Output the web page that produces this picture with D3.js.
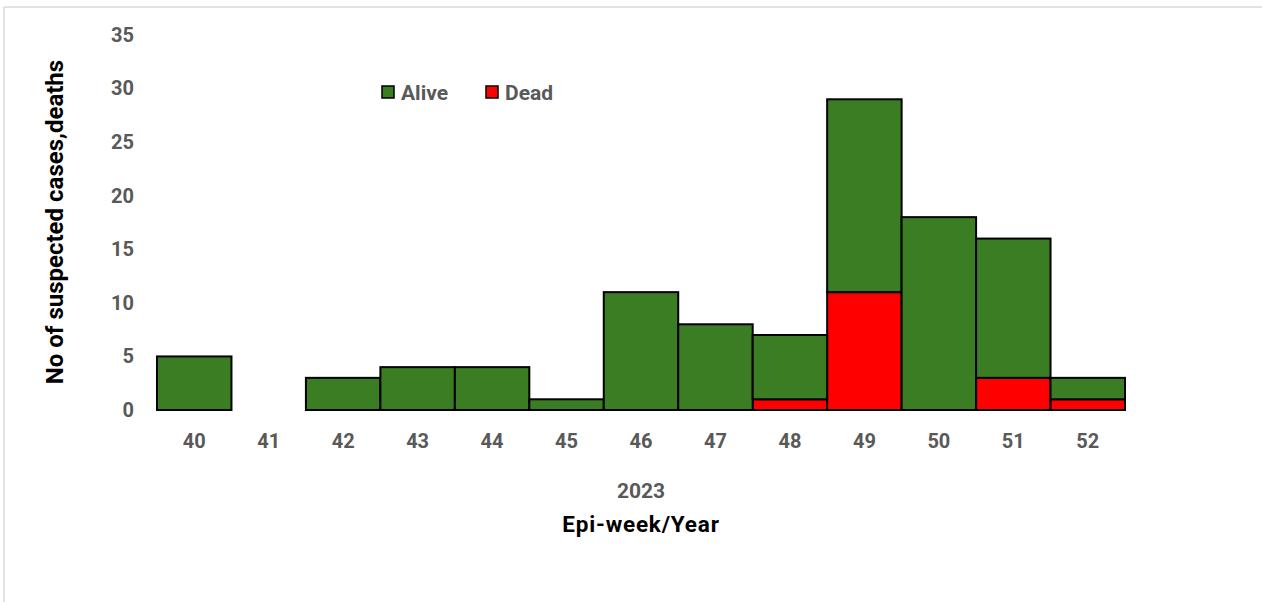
<!DOCTYPE html>
<html>
<head>
<meta charset="utf-8">
<script src="https://cdn.jsdelivr.net/npm/d3@7"></script>
<style>
  html, body { margin: 0; padding: 0; background: #fff; }
  svg { display: block; }
  text { font-family: Roboto, "Liberation Sans", Arial, sans-serif; font-weight: 700; }
</style>
</head>
<body>
<svg id="chart" width="1262" height="602"></svg>
<script>
// Epi-week categories and counts per outcome
const weeks = ["40", "41", "42", "43", "44", "45", "46", "47", "48", "49", "50", "51", "52"];
const alive = [5, 0, 3, 4, 4, 1, 11, 8, 6, 18, 18, 13, 2];
const dead  = [0, 0, 0, 0, 0, 0, 0, 0, 1, 11, 0, 3, 1];
const yTicks = [0, 5, 10, 15, 20, 25, 30, 35];
const seriesNames = ["Dead", "Alive"];
const colors = { Alive: "#3a7d23", Dead: "#ff0000" };

const svg = d3.select("#chart");
const W = 1262, H = 602;
const FONT = "Roboto, 'Liberation Sans', Arial, sans-serif";

// outer frame (top and left edges)
svg.append("line").attr("x1", 4).attr("x2", W).attr("y1", 7).attr("y2", 7)
  .attr("stroke", "#d9d9d9").attr("stroke-width", 1.5);
svg.append("line").attr("x1", 4).attr("x2", 4).attr("y1", 7).attr("y2", H)
  .attr("stroke", "#d9d9d9").attr("stroke-width", 1.5);

const plot = { left: 157, right: 1125, top: 35, bottom: 410 };

const x = d3.scaleBand().domain(weeks).range([plot.left, plot.right]).padding(0);
const y = d3.scaleLinear().domain([0, 35]).range([plot.bottom, plot.top]);

const rows = weeks.map((w, i) => ({ week: w, Alive: alive[i], Dead: dead[i] }));
const stack = d3.stack().keys(seriesNames)(rows);

const g = svg.append("g");
stack.forEach(layer => {
  g.selectAll(null).data(layer.filter(d => d[1] - d[0] > 0)).enter().append("rect")
    .attr("x", d => x(d.data.week))
    .attr("y", d => y(d[1]))
    .attr("width", x.bandwidth())
    .attr("height", d => y(d[0]) - y(d[1]))
    .attr("fill", colors[layer.key])
    .attr("stroke", "#000")
    .attr("stroke-width", 2);
});

// y axis labels (no axis line)
const yAxis = d3.axisLeft(y).tickValues(yTicks).tickSize(0).tickPadding(0);
const ya = svg.append("g").attr("transform", `translate(134,0)`).call(yAxis);
ya.select(".domain").remove();
ya.selectAll("text").attr("fill", "#595959").attr("font-size", 20)
  .style("font-family", FONT).style("font-weight", 700);

// x axis labels
const xAxis = d3.axisBottom(x).tickSize(0).tickPadding(0);
const xa = svg.append("g").attr("transform", `translate(0,${plot.bottom + 24})`).call(xAxis);
xa.select(".domain").remove();
xa.selectAll("text").attr("fill", "#595959").attr("font-size", 20)
  .style("font-family", FONT).style("font-weight", 700);

// year label and axis titles
svg.append("text").attr("x", 641).attr("y", 497.5).attr("text-anchor", "middle")
  .attr("fill", "#595959").attr("font-size", 21).text("2023");
svg.append("text").attr("x", 641).attr("y", 532).attr("text-anchor", "middle")
  .attr("fill", "#000").attr("font-size", 22.5).attr("letter-spacing", 0.8).text("Epi-week/Year");
svg.append("text")
  .attr("transform", "translate(63,222) rotate(-90)")
  .attr("text-anchor", "middle").attr("fill", "#000").attr("font-size", 24)
  .text("No of suspected cases,deaths");

// legend
const legend = [
  { name: "Alive", x: 382 },
  { name: "Dead", x: 486 }
];
legend.forEach(l => {
  svg.append("rect").attr("x", l.x).attr("y", 86).attr("width", 12).attr("height", 12)
    .attr("fill", colors[l.name]).attr("stroke", "#000").attr("stroke-width", 1.5);
  svg.append("text").attr("x", l.x + 19).attr("y", 100).attr("fill", "#595959")
    .attr("font-size", 21).text(l.name);
});
</script>
</body>
</html>
